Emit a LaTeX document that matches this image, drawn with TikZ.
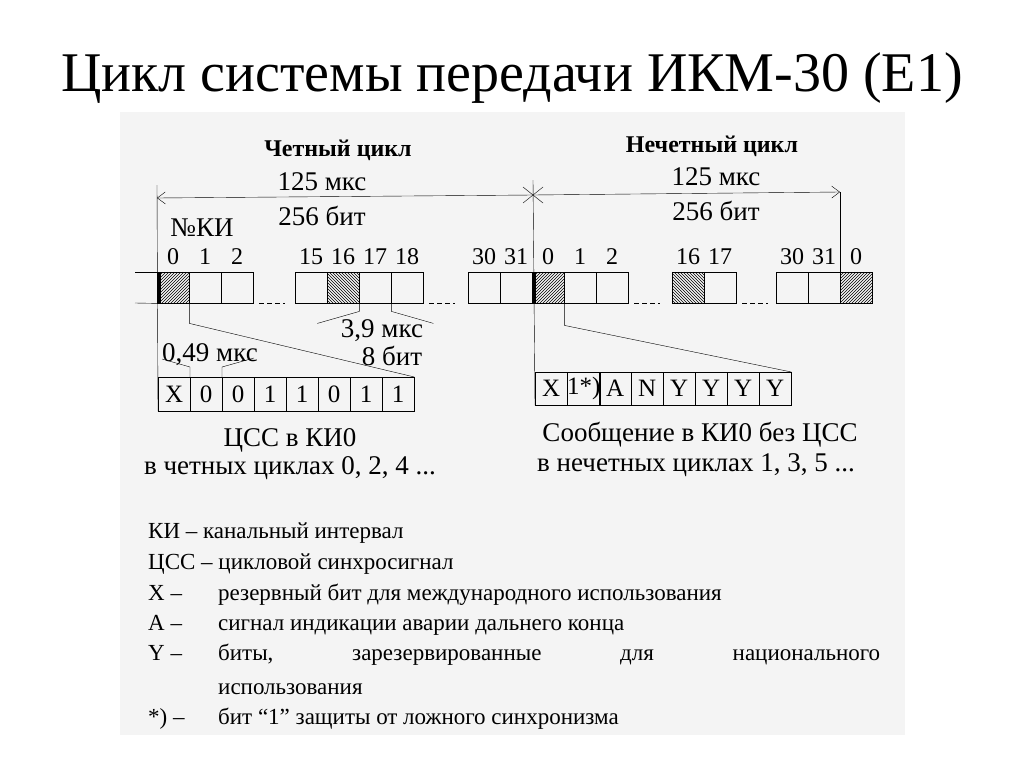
\documentclass[tikz,border=0pt]{standalone}
\usepackage{fontspec}
\setmainfont{Liberation Serif}
\usetikzlibrary{patterns,arrows.meta}
\begin{document}
\begin{tikzpicture}[x=1pt,y=-1pt,
  slot/.style={draw, minimum width=32pt, minimum height=31pt, inner sep=0pt, anchor=north west},
  bit/.style={draw, minimum width=32pt, minimum height=34pt, inner sep=0pt, anchor=north west, font=\fontsize{25}{25}\selectfont},
  lbl/.style={inner sep=0pt, font=\fontsize{27}{28}\selectfont},
  num/.style={inner sep=0pt, font=\fontsize{24}{24}\selectfont},
  leg/.style={inner sep=0pt, anchor=base west, font=\fontsize{23}{24}\selectfont},
  dsh/.style={dashed, dash pattern=on 5pt off 3pt},
  arr/.style={-{Straight Barb[length=8pt,width=12pt]}}]
\useasboundingbox (0,0) rectangle (1024,768);
\fill[gray!9] (120,112) rectangle (905,735);
\node[inner sep=0pt, font=\fontsize{56}{58}\selectfont] (title) at (512,78) {Цикл системы передачи ИКМ-30 (Е1)};
% slots
\foreach \n/\x in {s0/157,s1/189,s2/221,s15/295,s16/327,s17/359,s18/391,s30/468,s31/500,o0/532,o1/564,o2/596,o16/672,o17/704,o30/776,o31/808,oz/840}
  \node[slot] (\n) at (\x,272) {};
\fill[pattern=north east lines] (s0.north west) rectangle (s0.south east);
\fill[pattern=north east lines] (o0.north west) rectangle (o0.south east);
\fill[pattern=north east lines] (oz.north west) rectangle (oz.south east);
\fill[pattern=north west lines] (s16.north west) rectangle (s16.south east);
\fill[pattern=north west lines] (o16.north west) rectangle (o16.south east);
\foreach \n in {s0,o0,oz,s16,o16} \draw (\n.north west) rectangle (\n.south east);
\fill (s0.north west) rectangle ([xshift=4pt]s0.south west);
\fill (o0.north west) rectangle ([xshift=4pt]o0.south west);
\foreach \n/\t in {s0/0,s1/1,s2/2,s15/15,s16/16,s17/17,s18/18,s30/30,s31/31,o0/0,o1/1,o2/2,o16/16,o17/17,o30/30,o31/31,oz/0}
  \node[num] (n\n) at ([yshift=15pt]\n.north) {\t};
% side lines
\coordinate (hl1) at (135,272); \coordinate (hl2) at (135,303);
\draw (hl1) -- (s0.north west); \draw (hl2) -- (s0.south west);
\foreach \a in {s2,s18,o2,o17} \draw[dsh] ([xshift=6pt]\a.south east) -- ([xshift=32pt]\a.south east);
% bit boxes
\foreach \i/\t in {0/X,1/0,2/0,3/1,4/1,5/0,6/1,7/1}
  \node[bit] (b\i) at ({158+32*\i},377) {\t};
\foreach \i/\t in {0/X,1/1*),2/A,3/N,4/Y,5/Y,6/Y,7/Y}
  \node[bit,minimum height=33pt] (r\i) at ({535+32*\i},372) {\t};
% top arrows
\coordinate (Ltop) at (157,185);
\coordinate (Lar) at (157,198);
\coordinate (Mar) at (533,195);
\coordinate (Mtop) at (533,180);
\coordinate (Rar) at (840,192);
\draw[arr] (Mar) -- (Lar);
\draw[arr] (Mar) -- (Rar);
\draw (Ltop) -- (b0.south west);
\draw (Mtop) -- (r0.south west);
\draw (Rar) -- (oz.north west);
\draw (Mar) ++(-10,-8) -- ++(20,16) (Mar) ++(10,-8) -- ++(-20,16);
% fan lines
\draw (s0.south east) -- ++(0,20) -- (b7.north east);
\draw (o0.south east) -- ++(0,22) -- (r7.north east);
\draw (s16.south east) -- ++(0,8) -- ++(-42,12);
\draw (s17.south east) -- ++(0,8) -- ++(42,12);
\draw (b1.north west) -- ++(0,-10) -- ++(-28,-8);
\draw (b2.north west) -- ++(0,-10) -- ++(32,-9);
% labels
\node[lbl, font=\bfseries\fontsize{24}{24}\selectfont] (even) at (338,150) {Четный цикл};
\node[lbl, font=\bfseries\fontsize{24}{24}\selectfont] (odd) at (712,146) {Нечетный цикл};
\node[lbl] (t1) at (322,182) {125 мкс};
\node[lbl] (t2) at (322,216) {256 бит};
\node[lbl] (t3) at (716,177) {125 мкс};
\node[lbl] (t4) at (716,211) {256 бит};
\node[lbl] (nki) at (202,228) {№КИ};
\node[lbl] (t39) at (382,331) {3,9 мкс};
\node[lbl] (t8) at (392,356) {8 бит};
\node[lbl] (t049) at (210,355) {0,49 мкс};
\node[lbl] (c1) at (290,440) {ЦСС в КИ0};
\node[lbl] (c2) at (290,468) {в четных циклах 0, 2, 4 ...};
\node[lbl] (c3) at (700,435) {Сообщение в КИ0 без ЦСС};
\node[lbl] (c4) at (696,465) {в нечетных циклах 1, 3, 5 ...};
% legend
\node[leg] (g1) at (148,538) {КИ -- канальный интервал};
\node[leg] (g2) at (148,569) {ЦСС -- цикловой синхросигнал};
\node[leg] (g3) at (148,600) {X --};
\node[leg] (g3b) at (218,600) {резервный бит для международного использования};
\node[leg] (g4) at (148,630) {A --};
\node[leg] (g4b) at (218,630) {сигнал индикации аварии дальнего конца};
\node[leg] (g5) at (148,660) {Y --};
\node[leg, text width=662pt, align=justify] (g5b) at (218,660) {биты,\hfill зарезервированные\hfill для\hfill национального};
\node[leg] (g5c) at (218,694) {использования};
\node[leg] (g6) at (148,724) {*) --};
\node[leg] (g6b) at (218,724) {бит ``1'' защиты от ложного синхронизма};
\end{tikzpicture}
\end{document}
